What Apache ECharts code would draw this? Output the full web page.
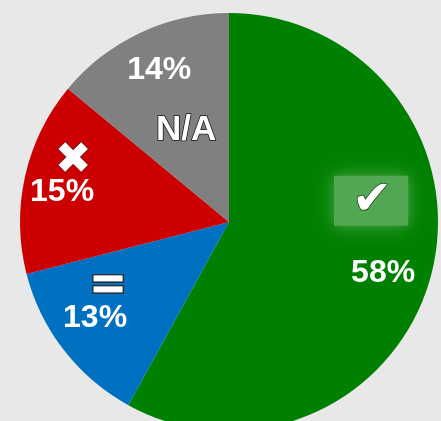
<!DOCTYPE html>
<html>
<head>
<meta charset="utf-8">
<script src="https://cdn.jsdelivr.net/npm/echarts@6/dist/echarts.min.js"></script>
<style>
html,body{margin:0;padding:0;background:#e8e8e8;}
#c{width:441px;height:421px;}
</style>
</head>
<body>
<div id="c"></div>
<script>
// Data
var categories = ['Yes', 'Partial', 'No', 'N/A'];
var values = [58, 13, 15, 14];
var icons = ['✔', '=', '✖', 'N/A'];
var colors = ['#008000', '#0070c0', '#cc0000', '#808080'];

// label offsets relative to slice mid-point (style only)
var pctOffsets = [[50, 24], [-49, 30], [-62, -6], [-24, -55]];
var iconOffsets = [[38, -48], [-36, -4], [-51, -37], [3, 6]];

var chart = echarts.init(document.getElementById('c'));

var pctData = categories.map(function (c, i) {
  return {
    name: c, value: values[i],
    itemStyle: { color: colors[i] },
    label: { offset: pctOffsets[i] }
  };
});

var iconData = categories.map(function (c, i) {
  return {
    name: c, value: values[i],
    itemStyle: { color: 'rgba(0,0,0,0)' },
    label: { offset: iconOffsets[i] }
  };
});

function iconText(s) {
  if (s === '✔') return '{chk|' + s + '}';
  if (s === '=') return '{bar|}\n{bar|}';
  if (s === '✖') return '{x|' + s + '}';
  return '{na|' + s + '}';
}

chart.setOption({
  backgroundColor: '#e8e8e8',
  animation: false,
  series: [
    {
      type: 'pie',
      center: [229, 222],
      radius: 209,
      startAngle: 90,
      clockwise: true,
      avoidLabelOverlap: false,
      labelLayout: { hideOverlap: false },
      emphasis: { disabled: true },
      label: {
        show: true,
        position: 'inside',
        formatter: '{c}%',
        color: '#ffffff',
        fontFamily: 'Liberation Sans, Arial, sans-serif',
        fontWeight: 'bold',
        fontSize: 32
      },
      labelLine: { show: false },
      data: pctData
    },
    {
      type: 'pie',
      center: [229, 222],
      radius: 209,
      startAngle: 90,
      clockwise: true,
      silent: true,
      avoidLabelOverlap: false,
      labelLayout: { hideOverlap: false },
      emphasis: { disabled: true },
      label: {
        show: true,
        position: 'inside',
        formatter: function (p) { return iconText(icons[p.dataIndex]); },
        fontFamily: 'DejaVu Sans, Liberation Sans, sans-serif',
        fontWeight: 'bold',
        rich: {
          chk: {
            fontSize: 48, color: '#ffffff', textBorderColor: '#1a3a1a', textBorderWidth: 1.5,
            fontFamily: 'DejaVu Sans',
            backgroundColor: '#52a852', padding: [2, 16, 0, 18],
            shadowBlur: 16, shadowColor: '#52a852', lineHeight: 46
          },
          bar: {
            width: 29, height: 6, backgroundColor: '#ffffff',
            borderColor: '#2a3440', borderWidth: 1.5, lineHeight: 11
          },
          x: {
            fontSize: 44, color: '#ffffff', textBorderColor: '#3a1010', textBorderWidth: 1,
            fontFamily: 'DejaVu Sans', lineHeight: 32
          },
          na: {
            fontSize: 35, color: '#ffffff', textBorderColor: '#111111', textBorderWidth: 1.5,
            fontFamily: 'Liberation Sans'
          }
        }
      },
      labelLine: { show: false },
      data: iconData
    }
  ]
});
</script>
</body>
</html>
